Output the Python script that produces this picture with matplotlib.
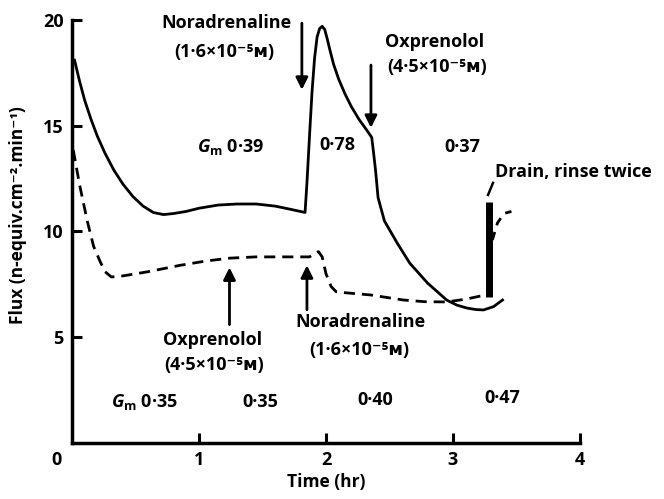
import numpy as np
import matplotlib
matplotlib.use("Agg")
import matplotlib.pyplot as plt

# fuentes
plt.rcParams['font.family'] = ['Open Sans', 'DejaVu Sans']
plt.rcParams['font.weight'] = 'bold'
plt.rcParams['axes.labelweight'] = 'bold'
plt.rcParams['mathtext.fontset'] = 'custom'
plt.rcParams['mathtext.rm'] = 'Open Sans:bold'
plt.rcParams['mathtext.it'] = 'Open Sans:italic:bold'
plt.rcParams['mathtext.bf'] = 'Open Sans:bold'

# ------------------- datos -------------------
# curva continua
solid_t = [0.02, 0.06, 0.10, 0.15, 0.20, 0.26, 0.33, 0.40, 0.48, 0.56, 0.64,
           0.72, 0.80, 0.90, 1.00, 1.15, 1.30, 1.45, 1.60, 1.72, 1.835, 1.85,
           1.87, 1.89, 1.91, 1.93, 1.95, 1.97, 1.99, 2.01, 2.03, 2.06, 2.10,
           2.15, 2.20, 2.26, 2.32, 2.36, 2.375, 2.39, 2.41, 2.46, 2.56, 2.66,
           2.80, 2.95, 3.03, 3.11, 3.18, 3.24, 3.32, 3.39]
solid_flux = [18.1, 17.1, 16.2, 15.3, 14.5, 13.7, 12.9, 12.25, 11.65, 11.2, 10.9,
              10.8, 10.85, 10.95, 11.1, 11.25, 11.3, 11.3, 11.2, 11.05, 10.9, 12.3,
              14.5, 16.6, 18.2, 19.2, 19.6, 19.7, 19.55, 19.1, 18.6, 17.9, 17.2,
              16.5, 15.9, 15.3, 14.8, 14.45, 13.7, 12.9, 11.6, 10.5, 9.46, 8.5,
              7.56, 6.76, 6.52, 6.38, 6.31, 6.29, 6.45, 6.76]

# curva discontinua
dashed_t = [0.01, 0.06, 0.12, 0.17, 0.22, 0.26, 0.31, 0.40, 0.60, 0.85, 1.05,
            1.24, 1.45, 1.65, 1.87, 1.91, 1.94, 1.97, 2.00, 2.04, 2.08, 2.16,
            2.35, 2.61, 2.78, 2.95, 3.10, 3.24, 3.28]
dashed_flux = [13.85, 12.2, 10.5, 9.3, 8.6, 8.1, 7.85, 7.9, 8.1, 8.4, 8.6,
               8.74, 8.8, 8.8, 8.8, 8.95, 9.05, 8.8, 8.0, 7.4, 7.15, 7.1,
               7.0, 6.76, 6.68, 6.67, 6.8, 6.98, 7.0]

# despues de drenar
after_t = [3.31, 3.35, 3.40, 3.46]
after_flux = [9.6, 10.4, 10.85, 10.95]

# barra de drenado
drain_t = 3.28
drain_low, drain_high = 6.9, 11.4

gm_upper = ['0·39', '0·78', '0·37']
gm_lower = ['0·35', '0·35', '0·40', '0·47']
conc_nor = '(1·6×10⁻⁵ᴍ)'
conc_oxp = '(4·5×10⁻⁵ᴍ)'

# ------------------- grafica -------------------
fig = plt.figure(figsize=(6.64, 4.99), dpi=100)
ax = fig.add_axes([72/664, 56/499, 508/664, 423/499])

ax.plot(solid_t, solid_flux, color='black', lw=2.0, solid_joinstyle='round')
ax.plot(dashed_t, dashed_flux, color='black', lw=2.0, dashes=(4, 2.5))
ax.plot(after_t, after_flux, color='black', lw=2.0, dashes=(3, 2.5))
ax.vlines(drain_t, drain_low, drain_high, color='black', lw=5)
ax.plot([3.276, 3.315], [11.73, 12.3], color='black', lw=1.8)

ax.set_xlim(0, 4)
ax.set_ylim(0, 20)
for s in ['top', 'right']:
    ax.spines[s].set_visible(False)
for s in ['left', 'bottom']:
    ax.spines[s].set_linewidth(2.5)
ax.set_xticks([1, 2, 3, 4])
ax.set_yticks([5, 10, 15, 20])
ax.tick_params(direction='in', length=7, width=2.2, labelsize=13, pad=6)
ax.text(-0.12, -0.8, '0', fontsize=13, ha='center', va='center', clip_on=False)

ax.set_xlabel('Time (hr)', fontsize=12.5, labelpad=3)
fig.text(18/664, 1 - 215/499, 'Flux (n-equiv.cm⁻².min⁻¹)', rotation=90,
         fontsize=12.5, ha='center', va='center')

fs = 13
arrow = dict(arrowstyle='-|>', lw=2, color='black', mutation_scale=18,
             shrinkA=0, shrinkB=0)

# anotaciones superiores
ax.text(1.217, 19.86, 'Noradrenaline', fontsize=fs, ha='center', va='center')
ax.text(1.20, 18.49, conc_nor, fontsize=fs, ha='center', va='center')
ax.annotate('', xy=(1.81, 16.7), xytext=(1.81, 19.85), arrowprops=arrow)

ax.text(2.854, 18.96, 'Oxprenolol', fontsize=fs, ha='center', va='center')
ax.text(2.874, 17.78, conc_oxp, fontsize=fs, ha='center', va='center')
ax.annotate('', xy=(2.354, 14.9), xytext=(2.354, 17.87), arrowprops=arrow)

ax.text(1.252, 14.0, r'$G_{\mathrm{m}}$ ' + gm_upper[0], fontsize=fs, ha='center', va='center')
ax.text(2.087, 14.09, gm_upper[1], fontsize=fs, ha='center', va='center')
ax.text(3.07, 14.0, gm_upper[2], fontsize=fs, ha='center', va='center')

ax.text(3.33, 12.8, 'Drain, rinse twice', fontsize=fs, ha='left', va='center')

# anotaciones inferiores
ax.text(1.11, 4.87, 'Oxprenolol', fontsize=fs, ha='center', va='center')
ax.text(1.12, 3.69, conc_oxp, fontsize=fs, ha='center', va='center')
ax.annotate('', xy=(1.24, 8.3), xytext=(1.24, 5.6), arrowprops=arrow)

ax.text(2.27, 5.72, 'Noradrenaline', fontsize=fs, ha='center', va='center')
ax.text(2.26, 4.4, conc_nor, fontsize=fs, ha='center', va='center')
ax.annotate('', xy=(1.85, 8.4), xytext=(1.85, 6.3), arrowprops=arrow)

ax.text(0.575, 1.94, r'$G_{\mathrm{m}}$ ' + gm_lower[0], fontsize=fs, ha='center', va='center')
ax.text(1.48, 1.94, gm_lower[1], fontsize=fs, ha='center', va='center')
ax.text(2.39, 2.03, gm_lower[2], fontsize=fs, ha='center', va='center')
ax.text(3.39, 2.13, gm_lower[3], fontsize=fs, ha='center', va='center')

fig.savefig('out.png', dpi=100)
